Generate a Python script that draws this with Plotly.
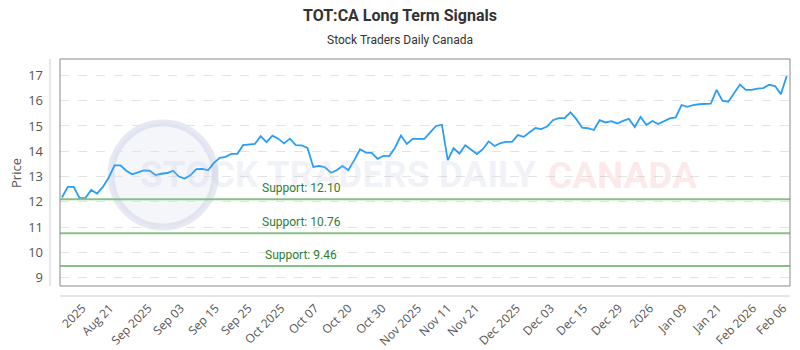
import plotly.graph_objects as go

# ---- data ----
prices = [
    12.17, 12.59, 12.59, 12.15, 12.15, 12.47, 12.33, 12.59, 12.96, 13.44,
    13.44, 13.23, 13.09, 13.16, 13.24, 13.23, 13.06, 13.11, 13.14, 13.23,
    13.00, 12.92, 13.06, 13.29, 13.30, 13.25, 13.54, 13.74, 13.78, 13.90,
    13.90, 14.24,
    14.27, 14.29, 14.60, 14.36, 14.62, 14.50, 14.31, 14.50, 14.24, 14.23,
    14.13, 13.38, 13.42, 13.36, 13.15, 13.25, 13.42, 13.25, 13.65, 14.08,
    13.95, 13.94, 13.70, 13.82, 13.81, 14.15, 14.62, 14.29, 14.49, 14.49,
    14.49,
    14.75, 15.00, 15.05, 13.65, 14.12, 13.91, 14.24, 14.06, 13.89, 14.08,
    14.39, 14.21, 14.32, 14.37, 14.37, 14.64, 14.57, 14.75, 14.92, 14.88,
    14.98, 15.23, 15.31, 15.31, 15.54, 15.27, 14.93, 14.91, 14.84, 15.23,
    15.14,
    15.19, 15.10, 15.20, 15.28, 14.96, 15.36, 15.04, 15.20, 15.08, 15.20,
    15.30, 15.34, 15.83, 15.76, 15.83, 15.86, 15.86, 15.88, 16.43, 16.00,
    15.96, 16.30, 16.64, 16.43, 16.43, 16.48, 16.50, 16.63, 16.58, 16.26,
    16.98,
]
x_index = list(range(len(prices)))

tick_labels = ["2025", "Aug 21", "Sep 2025", "Sep 03", "Sep 15", "Sep 25",
               "Oct 2025", "Oct 07", "Oct 20", "Oct 30", "Nov 2025", "Nov 11",
               "Nov 21", "Dec 2025", "Dec 03", "Dec 15", "Dec 29", "2026",
               "Jan 09", "Jan 21", "Feb 2026", "Feb 06"]
tick_positions = [3.5, 8.2, 14.8, 20.3, 26.3, 31.9, 37.5, 43.3, 49.0, 54.8,
                  60.9, 66.0, 70.8, 77.8, 83.6, 89.3, 95.3, 100.6, 106.3,
                  112.2, 118.2, 123.4]

support_levels = [12.10, 10.76, 9.46]
y_ticks = [9, 10, 11, 12, 13, 14, 15, 16, 17]

# ---- layout constants ----
W, H = 800, 350
ML, MR, MT, MB = 60, 10, 59, 64
PW = W - ML - MR
PH = H - MT - MB


def px_x(px):
    return (px - ML) / PW


def px_y(py):
    return (H - MB - py) / PH


fig = go.Figure()

fig.add_trace(go.Scatter(
    x=x_index, y=prices, mode="lines",
    line=dict(color="#2a9df4", width=1.8),
    hoverinfo="skip", showlegend=False,
))

shapes = []
annotations = []

# watermark
shapes.append(dict(type="circle", xref="paper", yref="paper", layer="below",
                   x0=px_x(111), x1=px_x(215), y0=px_y(227), y1=px_y(123),
                   line=dict(color="rgba(200,206,226,0.45)", width=7),
                   fillcolor="rgba(226,230,242,0.35)"))
annotations.append(dict(xref="paper", yref="paper", x=px_x(338), y=px_y(174),
                        xanchor="center", yanchor="middle",
                        text="<b>STOCK TRADERS DAILY</b>", showarrow=False,
                        font=dict(family="Roboto", size=37,
                                  color="rgba(190,198,222,0.22)")))
annotations.append(dict(xref="paper", yref="paper", x=px_x(622), y=px_y(175),
                        xanchor="center", yanchor="middle",
                        text="<b>CANADA</b>", showarrow=False,
                        font=dict(family="Roboto", size=37,
                                  color="rgba(240,140,140,0.20)")))

# support lines
for lvl in support_levels:
    shapes.append(dict(type="line", xref="paper", yref="y", x0=0, x1=1,
                       y0=lvl, y1=lvl, layer="above",
                       line=dict(color="#86c086", width=2)))
    annotations.append(dict(xref="paper", yref="y", x=px_x(301), y=lvl,
                            xanchor="center", yanchor="bottom", yshift=2,
                            showarrow=False,
                            text=f"Support: {lvl:.2f}",
                            font=dict(family="Roboto", size=12, color="#2e7d32")))

# plot border box
shapes.append(dict(type="rect", xref="paper", yref="paper", x0=0, x1=1, y0=0, y1=1,
                   line=dict(color="#8a8a8a", width=1), layer="above"))
# offset axis lines
shapes.append(dict(type="line", xref="paper", yref="paper",
                   x0=px_x(50), x1=px_x(50), y0=0, y1=1,
                   line=dict(color="#cccccc", width=1)))
shapes.append(dict(type="line", xref="paper", yref="paper",
                   x0=0, x1=1, y0=px_y(296), y1=px_y(296),
                   line=dict(color="#cccccc", width=1)))

# titles
annotations.append(dict(xref="paper", yref="paper", x=px_x(400), y=px_y(15),
                        xanchor="center", yanchor="middle",
                        text="<b>TOT:CA Long Term Signals</b>", showarrow=False,
                        font=dict(family="Roboto", size=16, color="#333333")))
annotations.append(dict(xref="paper", yref="paper", x=px_x(400), y=px_y(40),
                        xanchor="center", yanchor="middle",
                        text="Stock Traders Daily Canada", showarrow=False,
                        font=dict(family="Roboto", size=12, color="#333333")))
annotations.append(dict(xref="paper", yref="paper", x=px_x(16), y=px_y(173),
                        xanchor="center", yanchor="middle",
                        text="Price", textangle=-90, showarrow=False,
                        font=dict(family="Open Sans", size=13, color="#555555")))

fig.update_layout(
    width=W, height=H,
    margin=dict(l=ML, r=MR, t=MT, b=MB, pad=0, autoexpand=False),
    paper_bgcolor="white", plot_bgcolor="white",
    shapes=shapes, annotations=annotations,
    xaxis=dict(range=[-0.34, 124.56], showgrid=False, zeroline=False,
               showline=False, tickmode="array", tickvals=tick_positions,
               ticktext=tick_labels, tickangle=-45, ticks="",
               ticklabelstandoff=12, automargin=False,
               tickfont=dict(family="Open Sans", size=12, color="#555555")),
    yaxis=dict(range=[8.67, 17.65], tickmode="array", tickvals=y_ticks,
               showgrid=True, gridcolor="#e3e3e3", griddash="dash", gridwidth=1,
               zeroline=False, showline=False, ticks="",
               ticklabelstandoff=16, automargin=False,
               tickfont=dict(family="Open Sans", size=13, color="#555555")),
)

fig.write_html("out.html")
